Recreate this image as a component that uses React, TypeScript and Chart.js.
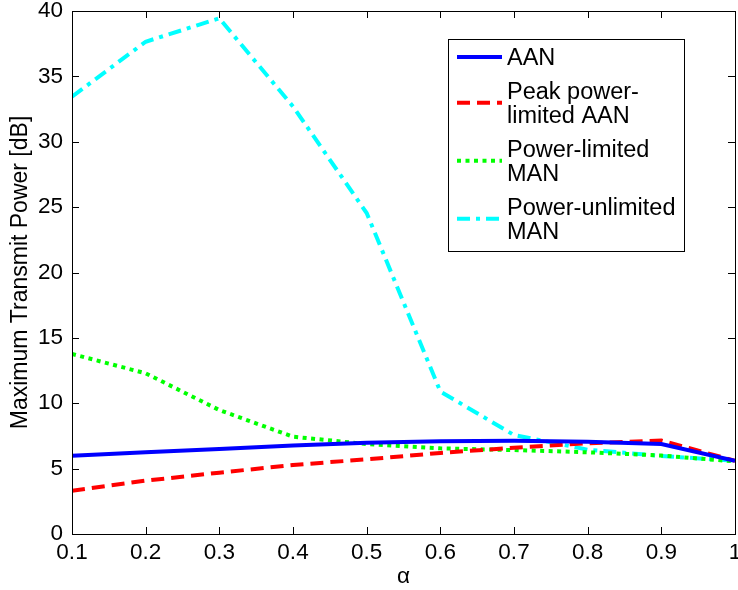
import React, { useEffect, useRef } from "react";
import { Chart, registerables } from "chart.js";

Chart.register(...registerables);

// alpha values along the horizontal axis
const alphaValues = [0.1, 0.2, 0.3, 0.4, 0.5, 0.6, 0.7, 0.8, 0.9, 1.0];
const xTickValues = [0.1, 0.2, 0.3, 0.4, 0.5, 0.6, 0.7, 0.8, 0.9, 1.0];
const xTickLabels = ["0.1", "0.2", "0.3", "0.4", "0.5", "0.6", "0.7", "0.8", "0.9", "1"];
const yTickValues = [0, 5, 10, 15, 20, 25, 30, 35, 40];

// maximum transmit power [dB] per scheme
const aanPower = [5.99, 6.25, 6.5, 6.76, 6.98, 7.1, 7.14, 7.06, 6.88, 5.6];
const peakLimitedAanPower = [3.31, 4.08, 4.69, 5.28, 5.71, 6.2, 6.6, 6.94, 7.15, 5.6];
const powerLimitedManPower = [13.77, 12.29, 9.48, 7.44, 6.88, 6.55, 6.42, 6.25, 6.0, 5.55];
const powerUnlimitedManPower = [33.45, 37.65, 39.44, 32.7, 24.55, 10.9, 7.57, 6.45, 5.97, 5.6];

const seriesLabels: string[][] = [
  ["AAN"],
  ["Peak power-", "limited AAN"],
  ["Power-limited", "MAN"],
  ["Power-unlimited", "MAN"],
];

const FONT = "'Liberation Sans', Arial, Helvetica, sans-serif";
const TEXT_SIZE = 23.5;
const AXIS_SIZE = 22.5;

const toPoints = (ys: number[]) => alphaValues.map((x, i) => ({ x, y: ys[i] }));

// box around the plot with inward tick marks on all four sides
const framePlugin = {
  id: "frameTicks",
  afterDatasetsDraw(chart: any) {
    const { ctx, chartArea } = chart;
    const { left, right, top, bottom } = chartArea;
    const xs = chart.scales.x;
    const ys = chart.scales.y;
    const len = 7;
    ctx.save();
    ctx.strokeStyle = "#000";
    ctx.lineWidth = 1;
    ctx.beginPath();
    xs.ticks.forEach((t: any) => {
      const px = Math.round(xs.getPixelForValue(t.value)) + 0.5;
      ctx.moveTo(px, bottom);
      ctx.lineTo(px, bottom - len);
      ctx.moveTo(px, top);
      ctx.lineTo(px, top + len);
    });
    ys.ticks.forEach((t: any) => {
      const py = Math.round(ys.getPixelForValue(t.value)) + 0.5;
      ctx.moveTo(left, py);
      ctx.lineTo(left + len, py);
      ctx.moveTo(right, py);
      ctx.lineTo(right - len, py);
    });
    ctx.stroke();
    ctx.strokeRect(Math.round(left) + 0.5, Math.round(top) + 0.5, Math.round(right - left), Math.round(bottom - top));
    ctx.restore();
  },
};

// boxed legend with wrapped labels in the upper right of the plot
const legendPlugin = {
  id: "boxLegend",
  afterDraw(chart: any) {
    const { ctx } = chart;
    const boxLeft = 448;
    const boxTop = 39;
    const boxRight = 684;
    const boxBottom = 251;
    const sampleX0 = 457;
    const sampleX1 = 502;
    const textX = 507;
    const lineGap = 24.5;
    const firstLineY = 57;
    const entryGap = 33.5;
    ctx.save();
    ctx.fillStyle = "#fff";
    ctx.fillRect(boxLeft, boxTop, boxRight - boxLeft, boxBottom - boxTop);
    ctx.strokeStyle = "#000";
    ctx.lineWidth = 1;
    ctx.strokeRect(boxLeft + 0.5, boxTop + 0.5, boxRight - boxLeft, boxBottom - boxTop);
    ctx.font = `${TEXT_SIZE}px ${FONT}`;
    ctx.textAlign = "left";
    ctx.textBaseline = "alphabetic";
    let y = firstLineY;
    chart.data.datasets.forEach((ds: any, i: number) => {
      const lines = seriesLabels[i];
      const lastY = y + (lines.length - 1) * lineGap;
      const midY = (y + lastY) / 2;
      ctx.save();
      ctx.strokeStyle = ds.borderColor;
      ctx.lineWidth = ds.borderWidth;
      ctx.setLineDash(ds.borderDash || []);
      ctx.beginPath();
      ctx.moveTo(sampleX0, midY);
      ctx.lineTo(sampleX1, midY);
      ctx.stroke();
      ctx.restore();
      ctx.fillStyle = "#000";
      lines.forEach((txt, k) => {
        ctx.fillText(txt, textX, y + k * lineGap + 0.358 * TEXT_SIZE);
      });
      y = lastY + entryGap;
    });
    ctx.restore();
  },
};

export default function App() {
  const canvasRef = useRef<HTMLCanvasElement | null>(null);

  useEffect(() => {
    if (!canvasRef.current) return;
    const chart = new Chart(canvasRef.current, {
      type: "line",
      data: {
        datasets: [
          {
            label: seriesLabels[0].join(" "),
            data: toPoints(aanPower),
            borderColor: "#0000ff",
            borderWidth: 4,
            borderDash: [],
          },
          {
            label: seriesLabels[1].join(" "),
            data: toPoints(peakLimitedAanPower),
            borderColor: "#ff0000",
            borderWidth: 4,
            borderDash: [13, 7],
          },
          {
            label: seriesLabels[2].join(" "),
            data: toPoints(powerLimitedManPower),
            borderColor: "#00ff00",
            borderWidth: 4,
            borderDash: [4, 4.5],
          },
          {
            label: seriesLabels[3].join(" "),
            data: toPoints(powerUnlimitedManPower),
            borderColor: "#00ffff",
            borderWidth: 4,
            borderDash: [13, 6, 4, 6],
          },
        ] as any,
      },
      options: {
        animation: false,
        responsive: false,
        maintainAspectRatio: false,
        layout: { padding: { top: 11, right: 3, left: 0, bottom: 0 } },
        elements: {
          point: { radius: 0, hoverRadius: 0 },
          line: { tension: 0, fill: false },
        },
        plugins: {
          legend: { display: false },
          tooltip: { enabled: false },
        },
        scales: {
          x: {
            type: "linear",
            min: 0.1,
            max: 1,
            afterBuildTicks: (scale: any) => {
              scale.ticks = xTickValues.map((v) => ({ value: v }));
            },
            afterFit: (scale: any) => {
              scale.height = 56;
              scale.paddingLeft = 0;
              scale.paddingRight = 0;
            },
            ticks: {
              autoSkip: false,
              maxRotation: 0,
              padding: 5,
              color: "#000",
              font: { family: FONT, size: AXIS_SIZE },
              callback: (_v: any, i: number) => xTickLabels[i],
            },
            grid: { display: false, drawTicks: false },
            border: { display: false },
            title: {
              display: true,
              text: "α",
              color: "#000",
              font: { family: FONT, size: AXIS_SIZE },
              padding: { top: 0, bottom: 0 },
            },
          },
          y: {
            type: "linear",
            min: 0,
            max: 40,
            afterBuildTicks: (scale: any) => {
              scale.ticks = yTickValues.map((v) => ({ value: v }));
            },
            afterFit: (scale: any) => {
              scale.width = 72;
              scale.paddingTop = 0;
              scale.paddingBottom = 0;
            },
            ticks: {
              padding: 9,
              color: "#000",
              font: { family: FONT, size: AXIS_SIZE },
              callback: (v: any) => String(v),
            },
            grid: { display: false, drawTicks: false },
            border: { display: false },
            title: {
              display: true,
              text: "Maximum Transmit Power [dB]",
              color: "#000",
              font: { family: FONT, size: 23 },
              padding: { top: 7, bottom: 0 },
            },
          },
        },
      } as any,
      plugins: [framePlugin, legendPlugin],
    });
    return () => chart.destroy();
  }, []);

  return (
    <div style={{ position: "absolute", left: 0, top: 0, width: 738, height: 590, background: "#fff" }}>
      <canvas ref={canvasRef} width={738} height={590} style={{ display: "block" }} />
    </div>
  );
}
